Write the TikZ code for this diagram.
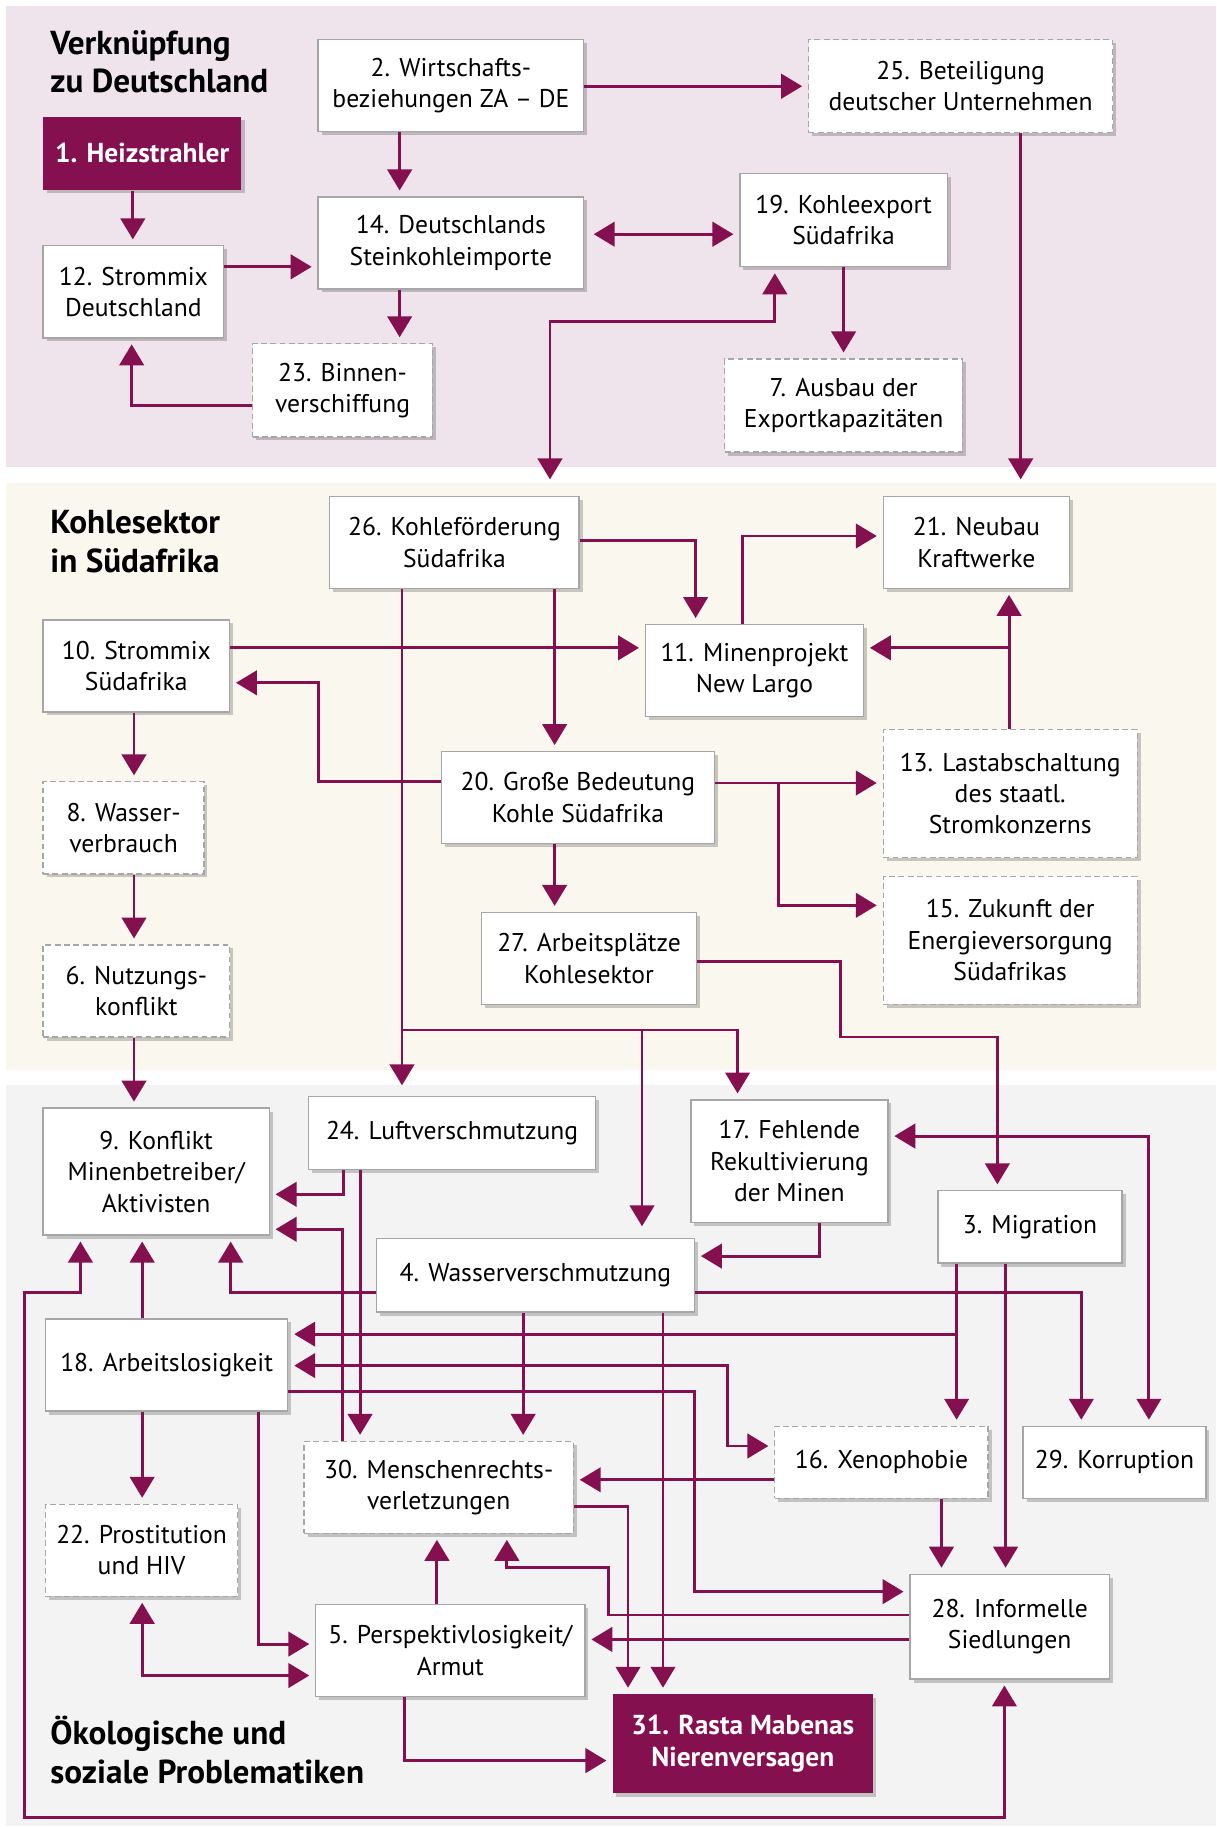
\documentclass[tikz,border=0pt]{standalone}
\usepackage{fontspec}
\setmainfont{PT Sans}
\usetikzlibrary{arrows.meta,shadows}
\definecolor{pur}{HTML}{85104F}
\definecolor{bandA}{HTML}{EFE3EC}
\definecolor{bandB}{HTML}{FAF7EF}
\definecolor{bandC}{HTML}{F3F3F3}
\definecolor{frame}{HTML}{A6A6A6}
\begin{document}
\begin{tikzpicture}[x=1pt,y=-1pt,
  box/.style={draw=frame, line width=1.1pt, fill=white, align=center, inner sep=2pt,
     font=\fontsize{22}{27}\selectfont, text=black,
     drop shadow={shadow xshift=3pt, shadow yshift=-3pt, opacity=0.2, fill=black}},
  dbox/.style={box, dash pattern=on 5pt off 3pt},
  hot/.style={box, draw=none, fill=pur, text=white, font=\fontsize{23.5}{28}\selectfont\bfseries},
  arr/.style={draw=pur, line width=2.5pt, -{Triangle[width=21pt,length=18pt]}, shorten >=5pt},
  darr/.style={draw=pur, line width=2.5pt, {Triangle[width=21pt,length=18pt]}-{Triangle[width=21pt,length=18pt]}, shorten >=5pt, shorten <=5pt},
  title/.style={anchor=north west, inner sep=0pt, align=left, font=\fontsize{28.5}{33}\selectfont\bfseries}
]
\useasboundingbox (0,0) rectangle (1044,1568);
% bands
\fill[bandA] (5,5) rectangle (1044,401);
\fill[bandB] (5,414.5) rectangle (1044,918);
\fill[bandC] (5,931) rectangle (1044,1567);
% titles
\node[title] (t1) at (43,26) {Verknüpfung\\zu Deutschland};
\node[title] (t2) at (43,438) {Kohlesektor\\in Südafrika};
\node[title] (t3) at (43,1473) {Ökologische und\\soziale Problematiken};
% pink nodes
\node[hot, minimum width=170pt, minimum height=63pt] (n1) at (122,131.5) {1. Heizstrahler};
\node[box, minimum width=228pt, minimum height=79pt] (n2) at (387,73.5) {2. Wirtschafts-\\beziehungen ZA – DE};
\node[dbox, minimum width=261pt, minimum height=80pt] (n25) at (824.5,74) {25. Beteiligung\\deutscher Unternehmen};
\node[box, minimum width=228pt, minimum height=79pt] (n14) at (387,208.5) {14. Deutschlands\\Steinkohleimporte};
\node[box, minimum width=178pt, minimum height=80pt] (n19) at (724,189) {19. Kohleexport\\Südafrika};
\node[box, minimum width=155pt, minimum height=79pt] (n12) at (114.5,250.5) {12. Strommix\\Deutschland};
\node[dbox, minimum width=154pt, minimum height=80pt] (n23) at (294,335) {23. Binnen-\\verschiffung};
\node[dbox, minimum width=204pt, minimum height=80pt] (n7) at (724,348) {7. Ausbau der\\Exportkapazitäten};
% cream nodes
\node[box, minimum width=214pt, minimum height=79pt] (n26) at (390,465.5) {26. Kohleförderung\\Südafrika};
\node[box, minimum width=160pt, minimum height=79pt] (n21) at (838,465.5) {21. Neubau\\Kraftwerke};
\node[box, minimum width=160pt, minimum height=79pt] (n10) at (117,571.5) {10. Strommix\\Südafrika};
\node[box, minimum width=187pt, minimum height=79pt] (n11) at (647.5,575.5) {11. Minenprojekt\\New Largo};
\node[box, minimum width=234pt, minimum height=79pt] (n20) at (496,684.5) {20. Große Bedeutung\\Kohle Südafrika};
\node[dbox, minimum width=218pt, minimum height=110pt] (n13) at (867,681) {13. Lastabschaltung\\des staatl.\\Stromkonzerns};
\node[dbox, minimum width=138pt, minimum height=79pt] (n8) at (106,710.5) {8. Wasser-\\verbrauch};
\node[box, minimum width=185pt, minimum height=79pt] (n27) at (505.5,822.5) {27. Arbeitsplätze\\Kohlesektor};
\node[dbox, minimum width=218pt, minimum height=110pt] (n15) at (867,807) {15. Zukunft der\\Energieversorgung\\Südafrikas};
\node[dbox, minimum width=160pt, minimum height=79pt] (n6) at (117,850.5) {6. Nutzungs-\\konflikt};
% gray nodes
\node[box, minimum width=194pt, minimum height=109pt] (n9) at (134,1005.5) {9. Konflikt\\Minenbetreiber/\\Aktivisten};
\node[box, minimum width=246pt, minimum height=63pt] (n24) at (388,972.5) {24. Luftverschmutzung};
\node[box, minimum width=169pt, minimum height=105pt] (n17) at (677.5,996.5) {17. Fehlende\\Rekultivierung\\der Minen};
\node[box, minimum width=158pt, minimum height=62pt] (n3) at (884,1053) {3. Migration};
\node[box, minimum width=273pt, minimum height=63pt] (n4) at (459.5,1094.5) {4. Wasserverschmutzung};
\node[box, minimum width=208pt, minimum height=79pt] (n18) at (143,1171.5) {18. Arbeitslosigkeit};
\node[dbox, minimum width=183pt, minimum height=62pt] (n16) at (756.5,1255) {16. Xenophobie};
\node[box, minimum width=157pt, minimum height=62pt] (n29) at (956.5,1255) {29. Korruption};
\node[dbox, minimum width=231pt, minimum height=79pt] (n30) at (376.5,1276.5) {30. Menschenrechts-\\verletzungen};
\node[dbox, minimum width=165pt, minimum height=79pt] (n22) at (121.5,1330.5) {22. Prostitution\\und HIV};
\node[box, minimum width=171pt, minimum height=90pt] (n28) at (866.5,1396) {28. Informelle\\Siedlungen};
\node[box, minimum width=231pt, minimum height=79pt] (n5) at (386.5,1416.5) {5. Perspektivlosigkeit/\\Armut};
\node[hot, minimum width=223pt, minimum height=85pt] (n31) at (637.5,1496.5) {31. Rasta Mabenas\\Nierenversagen};
% connectors: pink
\draw[arr] (114,0 |- n1.south) -- (114,0 |- n12.north);
\draw[arr] (n12.east |- 0,229) -- (n14.west |- 0,229);
\draw[arr] (343,0 |- n2.south) -- (343,0 |- n14.north);
\draw[arr] (343,0 |- n14.south) -- (343,0 |- n23.north);
\draw[arr] (n23.west |- 0,348) -| (113,0 |- n12.south);
\draw[arr] (n2.east |- 0,74) -- (n25.west |- 0,74);
\draw[darr, shorten <=8pt] (n14.east |- 0,201) -- (n19.west |- 0,201);
\draw[darr, shorten <=14pt] (472,0 |- n26.north) |- (665,276) -- (665,0 |- n19.south);
\draw[arr] (724,0 |- n19.south) -- (724,0 |- n7.north);
\draw[arr, shorten >=14pt] (876,0 |- n25.south) -- (876,0 |- n21.north);
% connectors: cream
\draw[arr] (n26.east |- 0,464) -| (597,0 |- n11.north);
\draw[arr] (637,0 |- n11.north) |- (n21.west |- 0,460);
\draw[arr] (n10.east |- 0,556) -- (n11.west |- 0,556);
\draw[arr] (866,0 |- n13.north) -- (866,0 |- n21.south);
\draw[arr] (866,0 |- n13.north) |- (n11.east |- 0,556);
\draw[arr] (476,0 |- n26.south) -- (476,0 |- n20.north);
\draw[arr] (n20.west |- 0,671) -| (273,586) -- (n10.east |- 0,586);
\draw[arr] (n20.east |- 0,672) -- (n13.west |- 0,672);
\draw[arr] (668,672) |- (n15.west |- 0,777);
\draw[arr] (476,0 |- n20.south) -- (476,0 |- n27.north);
\draw[arr] (115,0 |- n10.south) -- (115,0 |- n8.north);
\draw[arr] (115,0 |- n8.south) -- (115,0 |- n6.north);
\draw[arr] (115,0 |- n6.south) -- (115,0 |- n9.north);
\draw[arr, shorten >=9pt] (345,0 |- n26.south) -- (345,0 |- n24.north);
\draw[arr] (345,884) -| (633,0 |- n17.north);
\draw[arr, shorten >=10pt] (551,884) -- (551,0 |- n4.north);
\draw[arr] (n27.east |- 0,825) -| (721,890) -| (856,0 |- n3.north);
% connectors: gray
\draw[arr] (295,0 |- n24.south) |- (n9.east |- 0,1025);
\draw[arr] (294,0 |- n30.north) |- (n9.east |- 0,1055);
\draw[arr] (309,0 |- n24.south) -- (309,0 |- n30.north);
\draw[arr] (n4.west |- 0,1109) -| (198,0 |- n9.south);
\draw[arr] (122,0 |- n18.north) -- (122,0 |- n9.south);
\draw[darr] (69,0 |- n9.south) |- (21,1109) |- (862,1560) -- (862,0 |- n28.south);
\draw[arr] (703,0 |- n17.south) |- (n4.east |- 0,1078);
\draw[arr] (n4.east |- 0,1109) -| (928,0 |- n29.north);
\draw[darr] (n17.east |- 0,975) -| (986,0 |- n29.north);
\draw[arr] (821,0 |- n3.south) -- (821,0 |- n16.north);
\draw[arr] (821,1145) -- (n18.east |- 0,1145);
\draw[darr] (n18.east |- 0,1172) -| (624,1241) -- (n16.west |- 0,1241);
\draw[arr] (n18.east |- 0,1194) -| (596,1366) -- (n28.west |- 0,1366);
\draw[arr] (863,0 |- n3.south) -- (863,0 |- n28.north);
\draw[arr] (808,0 |- n16.south) -- (808,0 |- n28.north);
\draw[arr] (n16.west |- 0,1270) -- (n30.east |- 0,1270);
\draw[arr] (n30.east |- 0,1293) -| (539,0 |- n31.north);
\draw[arr] (569,0 |- n4.south) -- (569,0 |- n31.north);
\draw[arr] (449,0 |- n4.south) -- (449,0 |- n30.north);
\draw[arr] (122,0 |- n18.south) -- (122,0 |- n22.north);
\draw[darr] (122,0 |- n22.south) |- (n5.west |- 0,1438);
\draw[arr] (222,0 |- n18.south) |- (n5.west |- 0,1411);
\draw[arr] (375,0 |- n5.north) -- (375,0 |- n30.south);
\draw[arr] (n28.west |- 0,1386) -| (522,1345) -| (435,0 |- n30.south);
\draw[arr] (n28.west |- 0,1407) -- (n5.east |- 0,1407);
\draw[arr] (347,0 |- n5.south) |- (n31.west |- 0,1511);
\end{tikzpicture}
\end{document}
